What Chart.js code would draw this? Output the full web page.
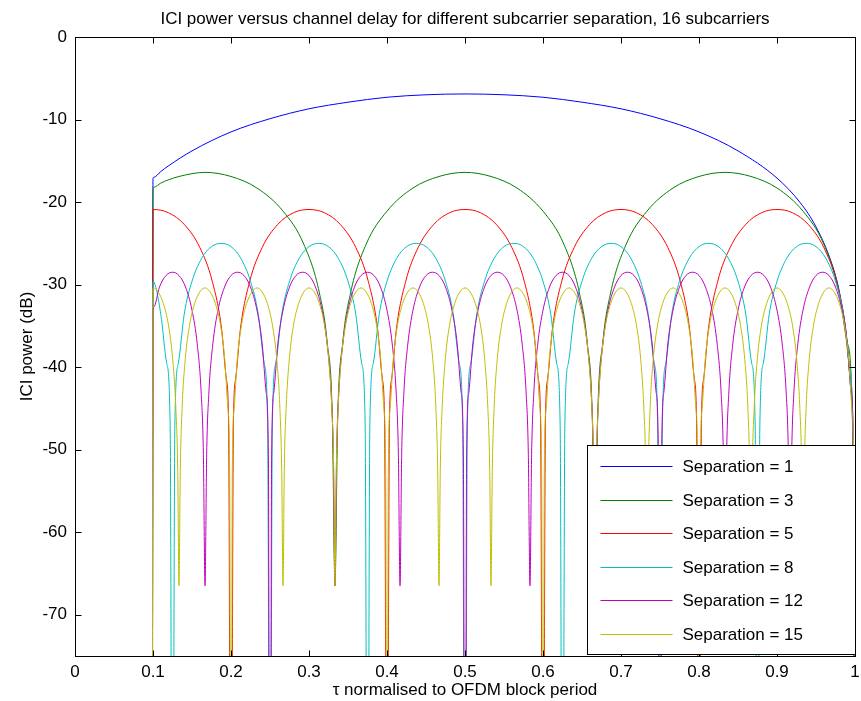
<!DOCTYPE html>
<html>
<head>
<meta charset="utf-8">
<script src="https://cdn.jsdelivr.net/npm/chart.js@4.4.1/dist/chart.umd.min.js"></script>
<style>
  html, body { margin: 0; padding: 0; background: #fff; }
</style>
</head>
<body>
<canvas id="ici" width="861" height="701"></canvas>
<script>
const xTicks = [0, 0.1, 0.2, 0.3, 0.4, 0.5, 0.6, 0.7, 0.8, 0.9, 1];
const yTicks = [0, -10, -20, -30, -40, -50, -60, -70];
const seriesNames = ["Separation = 1", "Separation = 3", "Separation = 5", "Separation = 8", "Separation = 12", "Separation = 15"];

// values; -120 means the curve runs off the bottom of the axes
const sep1Tau = [0.099, 0.1, 0.101, 0.11, 0.12, 0.15, 0.2, 0.25, 0.3, 0.35, 0.4, 0.45, 0.5, 0.55, 0.6, 0.65, 0.7, 0.75, 0.8, 0.85, 0.9, 0.93, 0.95, 0.97, 0.98, 0.99, 0.995, 0.998, 1.0];
const sep1Db = [-120, -17.1, -17.0, -16.3, -15.6, -13.8, -11.5, -9.9, -8.7, -7.9, -7.3, -7.0, -6.9, -7.0, -7.3, -7.9, -8.7, -9.9, -11.5, -13.8, -17.1, -20.1, -23.0, -27.4, -30.9, -37.0, -43.0, -50.9, -120];

const sep3Tau = [0.099, 0.1, 0.101, 0.11, 0.12, 0.1333, 0.1667, 0.2, 0.2333, 0.2667, 0.2933, 0.3133, 0.3233, 0.33,
  0.3333, 0.3367, 0.3433, 0.3533, 0.3733, 0.4, 0.4333, 0.4667, 0.5, 0.5333, 0.5667, 0.6, 0.6267, 0.6467, 0.6567, 0.6633,
  0.6667, 0.67, 0.6767, 0.6867, 0.7067, 0.7333, 0.7667, 0.8, 0.8333, 0.8667, 0.9, 0.9333, 0.96, 0.98, 0.99, 0.9967,
  1.0];
const sep3Db = [-120, -18.3, -18.2, -17.7, -17.3, -16.9, -16.4, -16.9, -18.3, -21.1, -25.1, -31.0, -37.0, -46.5,
  -66.5, -46.5, -37.0, -31.0, -25.1, -21.1, -18.3, -16.9, -16.4, -16.9, -18.3, -21.1, -25.1, -31.0, -37.0, -46.5,
  -66.5, -46.5, -37.0, -31.0, -25.1, -21.1, -18.3, -16.9, -16.4, -16.9, -18.3, -21.1, -25.1, -31.0, -37.0, -46.5,
  -120];

const sep5Tau = [0.099, 0.1, 0.12, 0.14, 0.16, 0.176, 0.188, 0.194, 0.197,
  0.2, 0.203, 0.206, 0.212, 0.224, 0.24, 0.26, 0.28, 0.3, 0.32, 0.34, 0.36, 0.376, 0.388, 0.394, 0.397,
  0.4, 0.403, 0.406, 0.412, 0.424, 0.44, 0.46, 0.48, 0.5, 0.52, 0.54, 0.56, 0.576, 0.588, 0.594, 0.597,
  0.6, 0.603, 0.606, 0.612, 0.624, 0.64, 0.66, 0.68, 0.7, 0.72, 0.74, 0.76, 0.776, 0.788, 0.794, 0.797,
  0.8, 0.803, 0.806, 0.812, 0.824, 0.84, 0.86, 0.88, 0.9, 0.92, 0.94, 0.96, 0.976, 0.988, 0.994, 0.997,
  1.0];
const sep5Db = [-120, -20.9, -21.3, -22.7, -25.5, -29.6, -35.4, -41.4, -47.4,
  -120, -47.4, -41.4, -35.4, -29.6, -25.5, -22.7, -21.3, -20.9, -21.3, -22.7, -25.5, -29.6, -35.4, -41.4, -47.4,
  -120, -47.4, -41.4, -35.4, -29.6, -25.5, -22.7, -21.3, -20.9, -21.3, -22.7, -25.5, -29.6, -35.4, -41.4, -47.4,
  -120, -47.4, -41.4, -35.4, -29.6, -25.5, -22.7, -21.3, -20.9, -21.3, -22.7, -25.5, -29.6, -35.4, -41.4, -47.4,
  -120, -47.4, -41.4, -35.4, -29.6, -25.5, -22.7, -21.3, -20.9, -21.3, -22.7, -25.5, -29.6, -35.4, -41.4, -47.4,
  -120];

const sep8Tau = [0.099, 0.1, 0.11, 0.1175, 0.122,
  0.125, 0.128, 0.1325, 0.14, 0.15, 0.1625, 0.175, 0.1875, 0.2, 0.2125, 0.225, 0.235, 0.2425, 0.247,
  0.25, 0.253, 0.2575, 0.265, 0.275, 0.2875, 0.3, 0.3125, 0.325, 0.3375, 0.35, 0.36, 0.3675, 0.372,
  0.375, 0.378, 0.3825, 0.39, 0.4, 0.4125, 0.425, 0.4375, 0.45, 0.4625, 0.475, 0.485, 0.4925, 0.497,
  0.5, 0.503, 0.5075, 0.515, 0.525, 0.5375, 0.55, 0.5625, 0.575, 0.5875, 0.6, 0.61, 0.6175, 0.622,
  0.625, 0.628, 0.6325, 0.64, 0.65, 0.6625, 0.675, 0.6875, 0.7, 0.7125, 0.725, 0.735, 0.7425, 0.747,
  0.75, 0.753, 0.7575, 0.765, 0.775, 0.7875, 0.8, 0.8125, 0.825, 0.8375, 0.85, 0.86, 0.8675, 0.872,
  0.875, 0.878, 0.8825, 0.89, 0.9, 0.9125, 0.925, 0.9375, 0.95, 0.9625, 0.975, 0.985, 0.9925, 0.997,
  1.0];
const sep8Db = [-120, -29.6, -33.6, -39.5, -47.1,
  -120, -47.1, -39.5, -33.6, -29.6, -26.8, -25.4, -25.0, -25.4, -26.8, -29.6, -33.6, -39.5, -47.1,
  -120, -47.1, -39.5, -33.6, -29.6, -26.8, -25.4, -25.0, -25.4, -26.8, -29.6, -33.6, -39.5, -47.1,
  -120, -47.1, -39.5, -33.6, -29.6, -26.8, -25.4, -25.0, -25.4, -26.8, -29.6, -33.6, -39.5, -47.1,
  -120, -47.1, -39.5, -33.6, -29.6, -26.8, -25.4, -25.0, -25.4, -26.8, -29.6, -33.6, -39.5, -47.1,
  -120, -47.1, -39.5, -33.6, -29.6, -26.8, -25.4, -25.0, -25.4, -26.8, -29.6, -33.6, -39.5, -47.1,
  -120, -47.1, -39.5, -33.6, -29.6, -26.8, -25.4, -25.0, -25.4, -26.8, -29.6, -33.6, -39.5, -47.1,
  -120, -47.1, -39.5, -33.6, -29.6, -26.8, -25.4, -25.0, -25.4, -26.8, -29.6, -33.6, -39.5, -47.1,
  -120];

const sep12Tau = [0.099, 0.1, 0.101, 0.1083, 0.1167, 0.125, 0.1333, 0.1417, 0.15, 0.1567, 0.1617, 0.1646,
  0.1667, 0.1688, 0.1717, 0.1767, 0.1833, 0.1917, 0.2, 0.2083, 0.2167, 0.225, 0.2333, 0.24, 0.245, 0.2479,
  0.25, 0.2521, 0.255, 0.26, 0.2667, 0.275, 0.2833, 0.2917, 0.3, 0.3083, 0.3167, 0.3233, 0.3283, 0.3312,
  0.3333, 0.3354, 0.3383, 0.3433, 0.35, 0.3583, 0.3667, 0.375, 0.3833, 0.3917, 0.4, 0.4067, 0.4117, 0.4146,
  0.4167, 0.4188, 0.4217, 0.4267, 0.4333, 0.4417, 0.45, 0.4583, 0.4667, 0.475, 0.4833, 0.49, 0.495, 0.4979,
  0.5, 0.5021, 0.505, 0.51, 0.5167, 0.525, 0.5333, 0.5417, 0.55, 0.5583, 0.5667, 0.5733, 0.5783, 0.5812,
  0.5833, 0.5854, 0.5883, 0.5933, 0.6, 0.6083, 0.6167, 0.625, 0.6333, 0.6417, 0.65, 0.6567, 0.6617, 0.6646,
  0.6667, 0.6688, 0.6717, 0.6767, 0.6833, 0.6917, 0.7, 0.7083, 0.7167, 0.725, 0.7333, 0.74, 0.745, 0.7479,
  0.75, 0.7521, 0.755, 0.76, 0.7667, 0.775, 0.7833, 0.7917, 0.8, 0.8083, 0.8167, 0.8233, 0.8283, 0.8312,
  0.8333, 0.8354, 0.8383, 0.8433, 0.85, 0.8583, 0.8667, 0.875, 0.8833, 0.8917, 0.9, 0.9067, 0.9117, 0.9146,
  0.9167, 0.9188, 0.9217, 0.9267, 0.9333, 0.9417, 0.95, 0.9583, 0.9667, 0.975, 0.9833, 0.99, 0.995, 0.9979,
  1.0];
const sep12Db = [-120, -33.1, -32.7, -30.3, -28.9, -28.5, -28.9, -30.3, -33.1, -37.2, -43.0, -50.6,
  -66.5, -50.6, -43.0, -37.2, -33.1, -30.3, -28.9, -28.5, -28.9, -30.3, -33.1, -37.2, -43.0, -50.6,
  -120, -50.6, -43.0, -37.2, -33.1, -30.3, -28.9, -28.5, -28.9, -30.3, -33.1, -37.2, -43.0, -50.6,
  -66.5, -50.6, -43.0, -37.2, -33.1, -30.3, -28.9, -28.5, -28.9, -30.3, -33.1, -37.2, -43.0, -50.6,
  -66.5, -50.6, -43.0, -37.2, -33.1, -30.3, -28.9, -28.5, -28.9, -30.3, -33.1, -37.2, -43.0, -50.6,
  -120, -50.6, -43.0, -37.2, -33.1, -30.3, -28.9, -28.5, -28.9, -30.3, -33.1, -37.2, -43.0, -50.6,
  -66.5, -50.6, -43.0, -37.2, -33.1, -30.3, -28.9, -28.5, -28.9, -30.3, -33.1, -37.2, -43.0, -50.6,
  -66.5, -50.6, -43.0, -37.2, -33.1, -30.3, -28.9, -28.5, -28.9, -30.3, -33.1, -37.2, -43.0, -50.6,
  -120, -50.6, -43.0, -37.2, -33.1, -30.3, -28.9, -28.5, -28.9, -30.3, -33.1, -37.2, -43.0, -50.6,
  -66.5, -50.6, -43.0, -37.2, -33.1, -30.3, -28.9, -28.5, -28.9, -30.3, -33.1, -37.2, -43.0, -50.6,
  -66.5, -50.6, -43.0, -37.2, -33.1, -30.3, -28.9, -28.5, -28.9, -30.3, -33.1, -37.2, -43.0, -50.6,
  -120];

const sep15Tau = [0.099, 0.1, 0.1067, 0.1133, 0.12, 0.1253, 0.1293, 0.1317,
  0.1333, 0.135, 0.1373, 0.1413, 0.1467, 0.1533, 0.16, 0.1667, 0.1733, 0.18, 0.1867, 0.192, 0.196, 0.1983,
  0.2, 0.2017, 0.204, 0.208, 0.2133, 0.22, 0.2267, 0.2333, 0.24, 0.2467, 0.2533, 0.2587, 0.2627, 0.265,
  0.2667, 0.2683, 0.2707, 0.2747, 0.28, 0.2867, 0.2933, 0.3, 0.3067, 0.3133, 0.32, 0.3253, 0.3293, 0.3317,
  0.3333, 0.335, 0.3373, 0.3413, 0.3467, 0.3533, 0.36, 0.3667, 0.3733, 0.38, 0.3867, 0.392, 0.396, 0.3983,
  0.4, 0.4017, 0.404, 0.408, 0.4133, 0.42, 0.4267, 0.4333, 0.44, 0.4467, 0.4533, 0.4587, 0.4627, 0.465,
  0.4667, 0.4683, 0.4707, 0.4747, 0.48, 0.4867, 0.4933, 0.5, 0.5067, 0.5133, 0.52, 0.5253, 0.5293, 0.5317,
  0.5333, 0.535, 0.5373, 0.5413, 0.5467, 0.5533, 0.56, 0.5667, 0.5733, 0.58, 0.5867, 0.592, 0.596, 0.5983,
  0.6, 0.6017, 0.604, 0.608, 0.6133, 0.62, 0.6267, 0.6333, 0.64, 0.6467, 0.6533, 0.6587, 0.6627, 0.665,
  0.6667, 0.6683, 0.6707, 0.6747, 0.68, 0.6867, 0.6933, 0.7, 0.7067, 0.7133, 0.72, 0.7253, 0.7293, 0.7317,
  0.7333, 0.735, 0.7373, 0.7413, 0.7467, 0.7533, 0.76, 0.7667, 0.7733, 0.78, 0.7867, 0.792, 0.796, 0.7983,
  0.8, 0.8017, 0.804, 0.808, 0.8133, 0.82, 0.8267, 0.8333, 0.84, 0.8467, 0.8533, 0.8587, 0.8627, 0.865,
  0.8667, 0.8683, 0.8707, 0.8747, 0.88, 0.8867, 0.8933, 0.9, 0.9067, 0.9133, 0.92, 0.9253, 0.9293, 0.9317,
  0.9333, 0.935, 0.9373, 0.9413, 0.9467, 0.9533, 0.96, 0.9667, 0.9733, 0.98, 0.9867, 0.992, 0.996, 0.9983,
  1.0];
const sep15Db = [-120, -30.4, -30.9, -32.3, -35.0, -39.1, -45.0, -52.5,
  -66.5, -52.5, -45.0, -39.1, -35.0, -32.3, -30.9, -30.4, -30.9, -32.3, -35.0, -39.1, -45.0, -52.5,
  -120, -52.5, -45.0, -39.1, -35.0, -32.3, -30.9, -30.4, -30.9, -32.3, -35.0, -39.1, -45.0, -52.5,
  -66.5, -52.5, -45.0, -39.1, -35.0, -32.3, -30.9, -30.4, -30.9, -32.3, -35.0, -39.1, -45.0, -52.5,
  -66.5, -52.5, -45.0, -39.1, -35.0, -32.3, -30.9, -30.4, -30.9, -32.3, -35.0, -39.1, -45.0, -52.5,
  -120, -52.5, -45.0, -39.1, -35.0, -32.3, -30.9, -30.4, -30.9, -32.3, -35.0, -39.1, -45.0, -52.5,
  -66.5, -52.5, -45.0, -39.1, -35.0, -32.3, -30.9, -30.4, -30.9, -32.3, -35.0, -39.1, -45.0, -52.5,
  -66.5, -52.5, -45.0, -39.1, -35.0, -32.3, -30.9, -30.4, -30.9, -32.3, -35.0, -39.1, -45.0, -52.5,
  -120, -52.5, -45.0, -39.1, -35.0, -32.3, -30.9, -30.4, -30.9, -32.3, -35.0, -39.1, -45.0, -52.5,
  -66.5, -52.5, -45.0, -39.1, -35.0, -32.3, -30.9, -30.4, -30.9, -32.3, -35.0, -39.1, -45.0, -52.5,
  -66.5, -52.5, -45.0, -39.1, -35.0, -32.3, -30.9, -30.4, -30.9, -32.3, -35.0, -39.1, -45.0, -52.5,
  -120, -52.5, -45.0, -39.1, -35.0, -32.3, -30.9, -30.4, -30.9, -32.3, -35.0, -39.1, -45.0, -52.5,
  -66.5, -52.5, -45.0, -39.1, -35.0, -32.3, -30.9, -30.4, -30.9, -32.3, -35.0, -39.1, -45.0, -52.5,
  -66.5, -52.5, -45.0, -39.1, -35.0, -32.3, -30.9, -30.4, -30.9, -32.3, -35.0, -39.1, -45.0, -52.5,
  -120];

const FONT = "'Liberation Sans', Arial, Helvetica, sans-serif";
const TITLE = "ICI power versus channel delay for different subcarrier separation, 16 subcarriers";
const colors = ["#0000ff", "#008000", "#ff0000", "#00bfbf", "#bf00bf", "#bfbf00"];
const allTau = [sep1Tau, sep3Tau, sep5Tau, sep8Tau, sep12Tau, sep15Tau];
const allDb = [sep1Db, sep3Db, sep5Db, sep8Db, sep12Db, sep15Db];

function pairs(xs, ys) {
  return xs.map((x, i) => ({ x: x, y: ys[i] }));
}

// matlab style box with inward ticks on all four sides, title over the axes, legend inset
const axesBox = {
  id: "axesBox",
  afterDatasetsDraw(chart) {
    const { ctx, chartArea: a, scales } = chart;
    const L = Math.round(a.left) + 0.5, R = Math.round(a.right) + 0.5;
    const T = Math.round(a.top) + 0.5, B = Math.round(a.bottom) + 0.5;
    const tl = 6;
    ctx.save();
    ctx.strokeStyle = "#000";
    ctx.lineWidth = 1;
    ctx.beginPath();
    xTicks.forEach((v) => {
      const px = Math.round(scales.x.getPixelForValue(v)) + 0.5;
      ctx.moveTo(px, B); ctx.lineTo(px, B - tl);
      ctx.moveTo(px, T); ctx.lineTo(px, T + tl);
    });
    yTicks.forEach((v) => {
      const py = Math.round(scales.y.getPixelForValue(v)) + 0.5;
      ctx.moveTo(L, py); ctx.lineTo(L + tl, py);
      ctx.moveTo(R, py); ctx.lineTo(R - tl, py);
    });
    ctx.stroke();
    ctx.strokeRect(L, T, R - L, B - T);

    ctx.fillStyle = "#000";
    ctx.font = "17px " + FONT;
    ctx.textAlign = "center";
    ctx.textBaseline = "middle";
    ctx.fillText(TITLE, (a.left + a.right) / 2, 19);
    ctx.restore();
  },
  afterDraw(chart) {
    const { ctx, chartArea: a } = chart;
    const w = 268, h = 209;
    const x0 = Math.round(a.right) - w + 0.5;
    const y0 = Math.round(a.bottom) - h - 2 + 0.5;
    ctx.save();
    ctx.fillStyle = "#fff";
    ctx.fillRect(x0, y0, w, h);
    ctx.strokeStyle = "#000";
    ctx.lineWidth = 1;
    ctx.strokeRect(x0, y0, w, h);
    ctx.font = "17px " + FONT;
    ctx.textBaseline = "middle";
    ctx.textAlign = "left";
    seriesNames.forEach((name, i) => {
      const cy = Math.round(y0 + 20.5 + i * 33.6) + 0.5;
      ctx.strokeStyle = colors[i];
      ctx.beginPath();
      ctx.moveTo(x0 + 13, cy);
      ctx.lineTo(x0 + 85, cy);
      ctx.stroke();
      ctx.fillStyle = "#000";
      ctx.fillText(name, x0 + 95, cy + 1);
    });
    ctx.restore();
  },
};

new Chart(document.getElementById("ici"), {
  type: "line",
  data: {
    datasets: seriesNames.map((name, i) => ({
      label: name,
      data: pairs(allTau[i], allDb[i]),
      borderColor: colors[i],
      backgroundColor: colors[i],
      borderWidth: 1,
      pointRadius: 0,
      fill: false,
      cubicInterpolationMode: "monotone",
      order: 6 - i,
    })),
  },
  options: {
    responsive: false,
    animation: false,
    devicePixelRatio: 1,
    layout: { padding: { left: 0, right: 6, top: 37, bottom: 0 } },
    plugins: {
      legend: { display: false },
      tooltip: { enabled: false },
      title: { display: false },
    },
    scales: {
      x: {
        type: "linear",
        min: 0,
        max: 1,
        afterBuildTicks: (s) => { s.ticks = xTicks.map((v) => ({ value: v })); },
        afterFit: (s) => { s.height = 45; s.paddingRight = 0; s.paddingLeft = 0; },
        grid: { display: false, drawTicks: false },
        border: { display: false },
        ticks: {
          color: "#000",
          font: { family: FONT, size: 17 },
          padding: 6,
          maxRotation: 0,
          autoSkip: false,
          callback: (v) => String(v),
        },
        title: {
          display: true,
          text: "τ normalised to OFDM block period",
          color: "#000",
          font: { family: FONT, size: 17 },
          padding: { top: 0, bottom: 0 },
        },
      },
      y: {
        type: "linear",
        min: -75,
        max: 0,
        afterBuildTicks: (s) => { s.ticks = yTicks.map((v) => ({ value: v })); },
        afterFit: (s) => { s.width = 75; },
        grid: { display: false, drawTicks: false },
        border: { display: false },
        ticks: {
          color: "#000",
          font: { family: FONT, size: 17 },
          padding: 8,
          autoSkip: false,
          callback: (v) => String(v),
        },
        title: {
          display: true,
          text: "ICI power (dB)",
          color: "#000",
          font: { family: FONT, size: 17 },
          padding: { top: 17, bottom: 0 },
        },
      },
    },
  },
  plugins: [axesBox],
});
</script>
</body>
</html>
